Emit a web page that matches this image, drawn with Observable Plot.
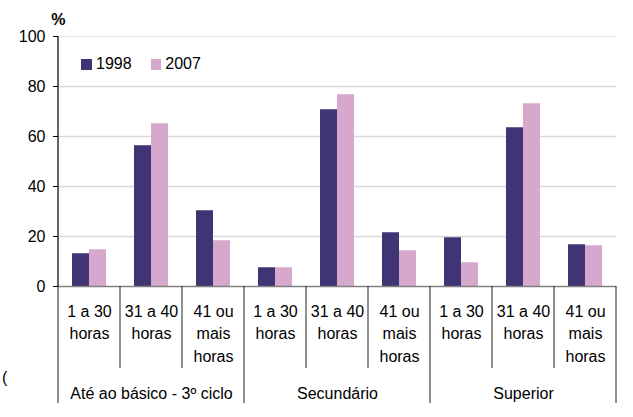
<!DOCTYPE html>
<html><head><meta charset="utf-8">
<script src="https://cdn.jsdelivr.net/npm/d3@7"></script>
<script src="https://cdn.jsdelivr.net/npm/@observablehq/plot@0.6"></script>
<style>
body{margin:0;background:#fff;font-family:"Liberation Sans",Arial,sans-serif;}
#wrap{position:relative;width:633px;height:417px;}
.lg{position:absolute;font-size:16px;line-height:16px;color:#000;white-space:nowrap;}
.sw{position:absolute;width:10.5px;height:10.5px;}
</style></head><body><div id="wrap"></div>
<script>
const groups = ["Até ao básico - 3º ciclo", "Secundário", "Superior"];
const subs = ["1 a 30\nhoras", "31 a 40\nhoras", "41 ou\nmais\nhoras"];
const years = ["1998", "2007"];
const v1998 = [13.1, 56.3, 30.3, 7.5, 70.7, 21.5, 19.5, 63.5, 16.7];
const v2007 = [14.7, 65.1, 18.3, 7.5, 76.7, 14.3, 9.5, 73.1, 16.3];
const yTicks = [0, 20, 40, 60, 80, 100];
const colors = ["#3f3474", "#d6a8cb"];

const cats = groups.flatMap((g, gi) => subs.map((s, si) => ({key: `${gi}-${si}`, group: g, sub: s, gi, si})));
const keys = cats.map(c => c.key);
const data = cats.flatMap((c, i) => [
  {key: c.key, year: years[0], value: v1998[i]},
  {key: c.key, year: years[1], value: v2007[i]}
]);

const font = '"Liberation Sans", Arial, sans-serif';
const plot = Plot.plot({
  width: 633, height: 417,
  marginLeft: 58, marginRight: 17, marginTop: 36, marginBottom: 131,
  style: {fontFamily: font, fontSize: "16px", color: "#000", background: "#fff", overflow: "visible"},
  fx: {domain: keys, padding: 0, axis: null},
  x: {domain: years, paddingInner: 0, paddingOuter: 0.77, axis: null},
  y: {domain: [0, 100], axis: null},
  color: {domain: years, range: colors},
  marks: [
    Plot.gridY([20, 40, 60, 80], {stroke: "#d9d9d9", strokeOpacity: 1, strokeWidth: 1.3}),
    Plot.gridY([100], {stroke: "#eeeeee", strokeOpacity: 1, strokeWidth: 1.3}),
    Plot.barY(data, {fx: "key", x: "year", y: "value", fill: "year"}),
    Plot.ruleY([0], {stroke: "#808080", strokeWidth: 1.6}),
    Plot.axisY(yTicks, {tickSize: 5, tickPadding: 8, fontSize: 16, stroke: "#000", label: null}),
    Plot.text(cats, {fx: "key", text: "sub", frameAnchor: "bottom", lineAnchor: "top", lineHeight: 1.42, dy: 14, fontSize: 16, fill: "#000"}),
    Plot.text(cats.filter(c => c.si === 1), {fx: "key", text: "group", frameAnchor: "bottom", dy: 112, fontSize: 16, fill: "#000"}),
    Plot.text([{key: keys[0], t: "%"}], {fx: "key", text: "t", frameAnchor: "top-left", textAnchor: "start", dx: -7.3, dy: -23, fontSize: 16, fontWeight: "bold", fill: "#000"})
  ]
});

const fx = plot.scale("fx");
const y = plot.scale("y");
const svg = d3.select(plot);
const y0 = y.apply(0), yTop = y.apply(100);
const xLeft = fx.apply(keys[0]);
const g = svg.append("g");
g.append("line").attr("x1", xLeft).attr("x2", xLeft).attr("y1", yTop).attr("y2", y0)
  .attr("stroke", "#000").attr("stroke-width", 1.2);
const bounds = keys.map(k => fx.apply(k)).concat([fx.apply(keys[keys.length - 1]) + fx.bandwidth]);
bounds.forEach((bx, i) => {
  const isGroup = i % subs.length === 0;
  g.append("line").attr("x1", bx).attr("x2", bx).attr("y1", y0)
    .attr("y2", y0 + (isGroup ? 117 : 82))
    .attr("stroke", "#222").attr("stroke-width", 1);
});

const wrap = document.getElementById("wrap");
wrap.appendChild(plot);
const legendPos = [{sx: 81, tx: 96}, {sx: 150.7, tx: 165.3}];
years.forEach((yr, i) => {
  const sw = document.createElement("div");
  sw.className = "sw"; sw.style.left = legendPos[i].sx + "px"; sw.style.top = "59px"; sw.style.background = colors[i];
  wrap.appendChild(sw);
  const t = document.createElement("div");
  t.className = "lg"; t.style.left = legendPos[i].tx + "px"; t.style.top = "56px"; t.textContent = yr;
  wrap.appendChild(t);
});
const stray = document.createElement("div");
stray.className = "lg"; stray.style.left = "2px"; stray.style.top = "370px"; stray.textContent = "(";
wrap.appendChild(stray);
</script>
</body></html>
